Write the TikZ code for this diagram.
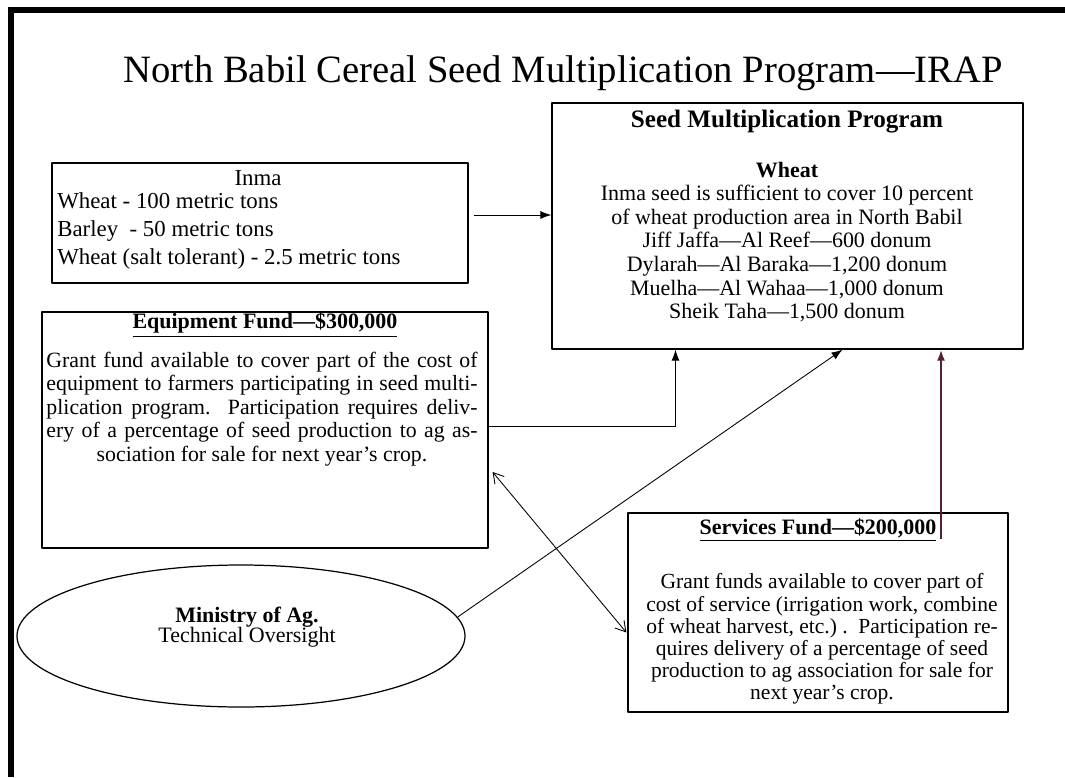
\documentclass[tikz,border=0pt]{standalone}
\usepackage{fontspec}
\setmainfont{Liberation Serif}
\usetikzlibrary{arrows.meta, shapes.geometric}

% one justified line of the equipment text
\newcommand{\fullline}[1]{\makebox[86.2mm][s]{#1}}

\begin{document}
\begin{tikzpicture}[x=0.2mm, y=-0.2mm, >=Latex, line join=round,
    box/.style={draw, line width=0.7pt, inner sep=0pt},
    link/.style={->, line width=0.5pt, >={Latex[length=2.2mm, width=1.6mm]}},
    headtext/.style={font=\fontsize{12.5}{14}\selectfont\bfseries},
    bodytext/.style={align=center, inner sep=0pt, font=\fontsize{12}{13.4}\selectfont}]
  \definecolor{upmaroon}{HTML}{5A1F2E}

  \useasboundingbox (0,0) rectangle (1065,777);

  % --- the heavy frame, top and left only
  \fill (8,7) rectangle (1065,13);
  \fill (8,7) rectangle (14,777);

  \node[anchor=base, font=\fontsize{22}{26}\selectfont] (title) at (563,82)
    {North Babil Cereal Seed Multiplication Program—IRAP};

  % --- the boxes and the ellipse (empty, text goes on top)
  \node[box, minimum width=83.2mm, minimum height=24mm] (inma) at (260,223) {};
  \node[box, minimum width=94.2mm, minimum height=49.2mm] (seed) at (787.5,226) {};
  \node[box, minimum width=89.2mm, minimum height=47.2mm] (equip) at (265,430) {};
  \node[box, minimum width=76mm, minimum height=39.8mm] (serv) at (818,612.5) {};
  \node[box, ellipse, minimum width=89.6mm, minimum height=28.4mm] (ministry) at (241,636) {};

  % --- Inma
  \node[font=\fontsize{13}{15.6}\selectfont] (inmahead) at (258,178) {Inma};
  \node[anchor=west, align=left, inner sep=0pt, font=\fontsize{13}{15.8}\selectfont]
    (inmalist) at (57,231)
    {Wheat - 100 metric tons\\Barley\ \ - 50 metric tons\\Wheat (salt tolerant) - 2.5 metric tons};

  % --- seed program
  \node[headtext, font=\fontsize{14.3}{16}\selectfont\bfseries] (seedhead) at (787,122)
    {Seed Multiplication Program};
  \node[bodytext, font=\fontsize{12.5}{13.4}\selectfont] (seedbody) at (787,242)
    {\textbf{Wheat}\\
     Inma seed is sufficient to cover 10 percent\\
     of wheat production area in North Babil\\
     Jiff Jaffa—Al Reef—600 donum\\
     Dylarah—Al Baraka—1,200 donum\\
     Muelha—Al Wahaa—1,000 donum\\
     Sheik Taha—1,500 donum};

  % --- equipment fund
  \node[headtext] (equiphead) at (265,325) {\underline{Equipment Fund—\$300,000}};
  \node[bodytext, font=\fontsize{12.4}{13.4}\selectfont] (equipbody) at (262,409)
    {\fullline{Grant fund available to cover part of the cost of}\\
     \fullline{equipment to farmers participating in seed multi-}\\
     \fullline{plication program.\ \ Participation requires deliv-}\\
     \fullline{ery of a percentage of seed production to ag as-}\\
     sociation for sale for next year's crop.};

  % --- services fund
  \node[headtext] (servhead) at (818,530) {\underline{Services Fund—\$200,000}};
  \node[bodytext, font=\fontsize{12.25}{12.6}\selectfont] (servbody) at (822,639)
    {Grant funds available to cover part of\\
     cost of service (irrigation work, combine\\
     of wheat harvest, etc.)\ .\ \ Participation re-\\
     quires delivery of a percentage of seed\\
     production to ag association for sale for\\
     next year's crop.};

  % --- ministry
  \node[align=center, inner sep=0pt, font=\fontsize{12.5}{11.5}\selectfont] (ministrytext) at (247,627)
    {\textbf{Ministry of Ag.}\\Technical Oversight};

  % --- connectors
  \draw[link] ([shift={(5,-8)}]inma.east) -- ([shift={(0,-11)}]seed.west);
  \draw[link] ([shift={(0,-4)}]equip.east) -| ([shift={(-112,0)}]seed.south);
  \draw[link] (ministry.5) -- ([shift={(55,0)}]seed.south);
  \draw[link, <->, >={Straight Barb[length=2mm, width=2.4mm]}]
    ([shift={(4,42)}]equip.east) -- ([shift={(-1,20)}]serv.west);
  \coordinate (servup) at ([shift={(123,27)}]serv.north);
  \draw[link, upmaroon, line width=1.2pt] (servup) -- (servup |- seed.south);
\end{tikzpicture}
\end{document}
